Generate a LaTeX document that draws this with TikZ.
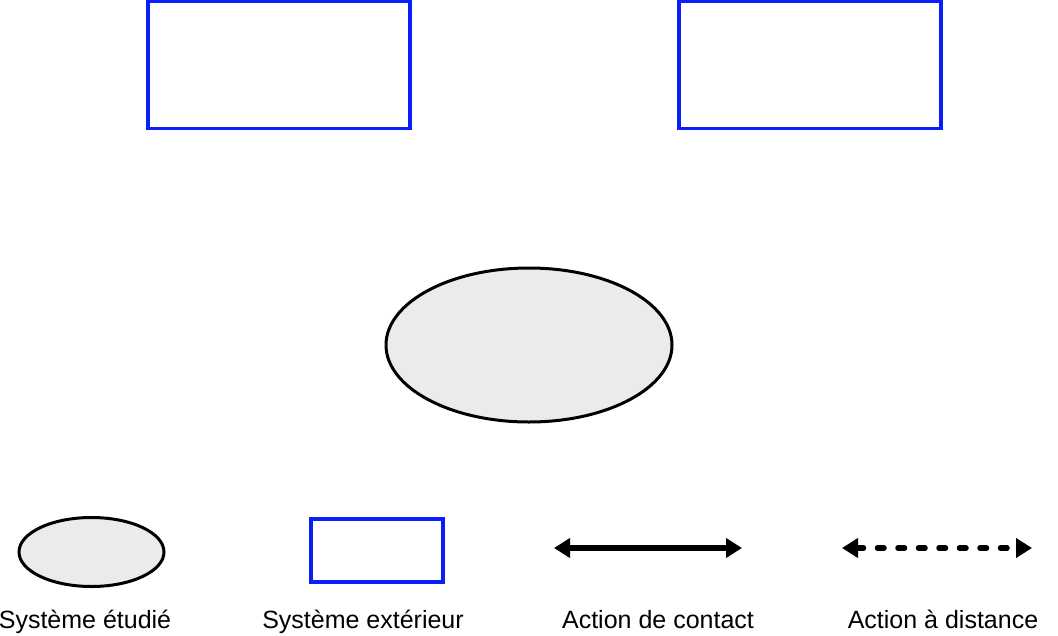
\documentclass[tikz,border=0pt]{standalone}
\usepackage{fontspec}
\setmainfont{Liberation Sans}
\usetikzlibrary{arrows.meta,shapes.geometric}
\definecolor{sysblue}{RGB}{10,30,250}
\definecolor{sysgray}{RGB}{235,235,235}
\begin{document}
\begin{tikzpicture}[x=1pt,y=-1pt,
  extbox/.style={draw=sysblue,line width=3.3pt,rectangle,inner sep=0pt,fill=white},
  studied/.style={draw=black,line width=3pt,ellipse,inner sep=0pt,fill=sysgray},
  lbl/.style={font=\fontsize{25}{29}\selectfont,anchor=base,inner sep=0pt},
  contactarrow/.style={line width=6pt,{Triangle[length=16pt,width=19pt]}-{Triangle[length=16pt,width=19pt]}},
  remotearrow/.style={line width=5.5pt,line cap=round,dash pattern=on 6.5pt off 14pt,{Triangle[length=16pt,width=19pt]}-{Triangle[length=16pt,width=19pt]}}]
\useasboundingbox (0,0) rectangle (1058,635);
% top external systems
\node[extbox,minimum width=262pt,minimum height=127pt] (ext1) at (279,65) {};
\node[extbox,minimum width=262pt,minimum height=127pt] (ext2) at (810,65) {};
% studied system
\node[studied,minimum width=286pt,minimum height=154pt] (sys) at (529,345) {};
% legend
\node[studied,minimum width=145pt,minimum height=69pt] (lsys) at (91.5,552) {};
\node[extbox,minimum width=132pt,minimum height=63pt] (lext) at (377,550.5) {};
\coordinate (ca) at (554,548);
\coordinate (cb) at (742,548);
\draw[contactarrow] (ca) -- (cb);
\coordinate (da) at (842,548);
\coordinate (db) at (1032,548);
\draw[remotearrow] (da) -- (db);
\node[lbl] (t1) at (85,628) {Système étudié};
\node[lbl] (t2) at (363,628) {Système extérieur};
\node[lbl] (t3) at (658,628) {Action de contact};
\node[lbl] (t4) at (943,628) {Action à distance};
\end{tikzpicture}
\end{document}
